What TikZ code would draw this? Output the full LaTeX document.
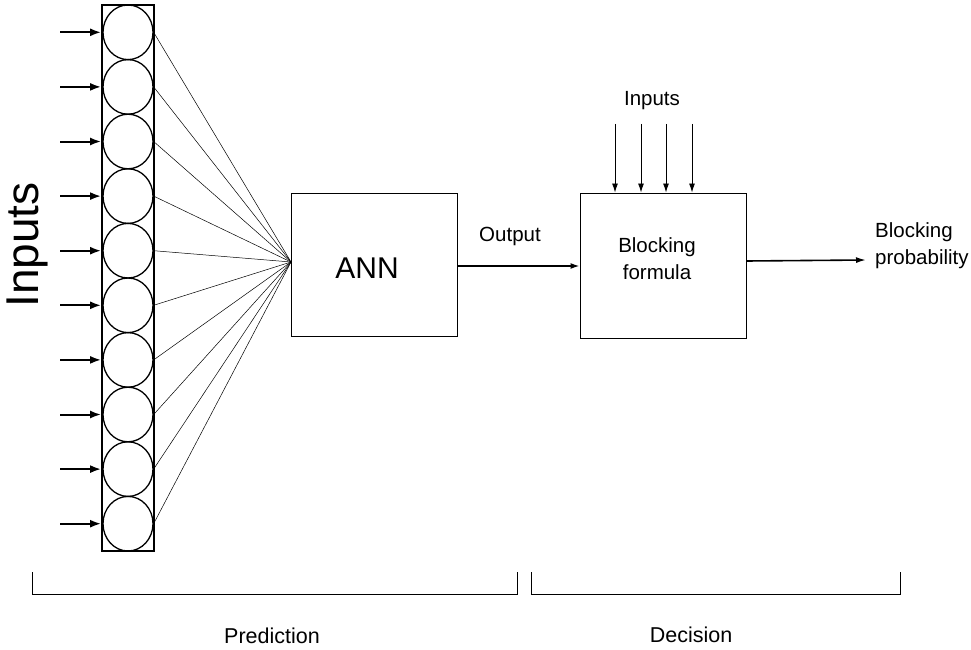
\documentclass[tikz,border=0pt]{standalone}
\usepackage{fontspec}
\setmainfont{Liberation Sans}
\usetikzlibrary{arrows.meta,shapes.geometric}
\begin{document}
\begin{tikzpicture}[x=1pt,y=-1pt,
  neuron/.style={draw, ellipse, line width=1.3pt, minimum width=50pt, minimum height=54.6pt, inner sep=0pt},
  column/.style={draw, line width=1.8pt, minimum width=52pt, minimum height=546pt, inner sep=0pt},
  block/.style={draw, line width=0.9pt, inner sep=0pt},
  feed/.style={line width=2pt, -{Latex[length=11pt,width=8pt]}},
  thin arrow/.style={line width=0.9pt, -{Latex[length=9pt,width=6pt]}},
  weight/.style={line width=0.5pt},
  lbl/.style={font=\fontsize{20.5}{27}\selectfont, inner sep=0pt, align=center},
  brace/.style={line width=0.8pt}]
\useasboundingbox (0,0) rectangle (971,650);

% input layer
\node[column] (col) at (128,278) {};
\foreach \i/\y in {1/32.3,2/86.9,3/141.5,4/196.1,5/250.7,6/305.3,7/359.9,8/414.5,9/469.1,10/523.7}{
  \node[neuron] (c\i) at (128,\y) {};
  \coordinate (in\i) at (60,\y);
  \draw[feed] (in\i) -- (col.west |- c\i);
}

% connections into the network
\coordinate (hub) at (291,262);
\foreach \i in {1,...,10}
  \draw[weight] (c\i.east) -- (hub);

\node[rotate=90, font=\fontsize{46}{46}\selectfont, inner sep=0pt] (inputs) at (27,245) {Inputs};

% ANN block
\node[block, minimum width=166pt, minimum height=143pt] (ann) at (374,264.5) {};
\node[font=\fontsize{30}{30}\selectfont, inner sep=0pt] (annlbl) at (367,268) {ANN};

% blocking formula block
\node[block, minimum width=166pt, minimum height=145pt] (bf) at (663,265.5) {};
\node[lbl] (bflbl) at (657,259) {Blocking\\formula};

% output of the ANN
\draw[line width=1.6pt, -{Latex[length=9pt,width=6pt]}] (ann.east |- 0,266) -- (bf.west |- 0,266);
\node[lbl] (outlbl) at (510,236) {Output};

% extra inputs to the formula
\node[lbl] (topin) at (652,101) {Inputs};
\foreach \x [count=\k] in {615,641,666,692}{
  \coordinate (t\k) at (\x,124);
  \draw[thin arrow] (t\k) -- (\x,192.5);
}

% final result
\coordinate (res) at (866,260);
\draw[line width=1.6pt, -{Latex[length=10pt,width=6pt]}] (bf.east |- 0,261) -- (res);
\node[lbl, align=left, anchor=west] (prob) at (875,246) {Blocking\\probability};

% stage brackets
\draw[brace] (32,572) -- (32,594) -- (517,594) -- (517,572);
\draw[brace] (531,572) -- (531,594) -- (900,594) -- (900,572);
\node[font=\fontsize{21.5}{21.5}\selectfont, inner sep=0pt] (pred) at (272,636) {Prediction};
\node[font=\fontsize{21.5}{21.5}\selectfont, inner sep=0pt] (dec) at (691,635) {Decision};
\end{tikzpicture}
\end{document}
